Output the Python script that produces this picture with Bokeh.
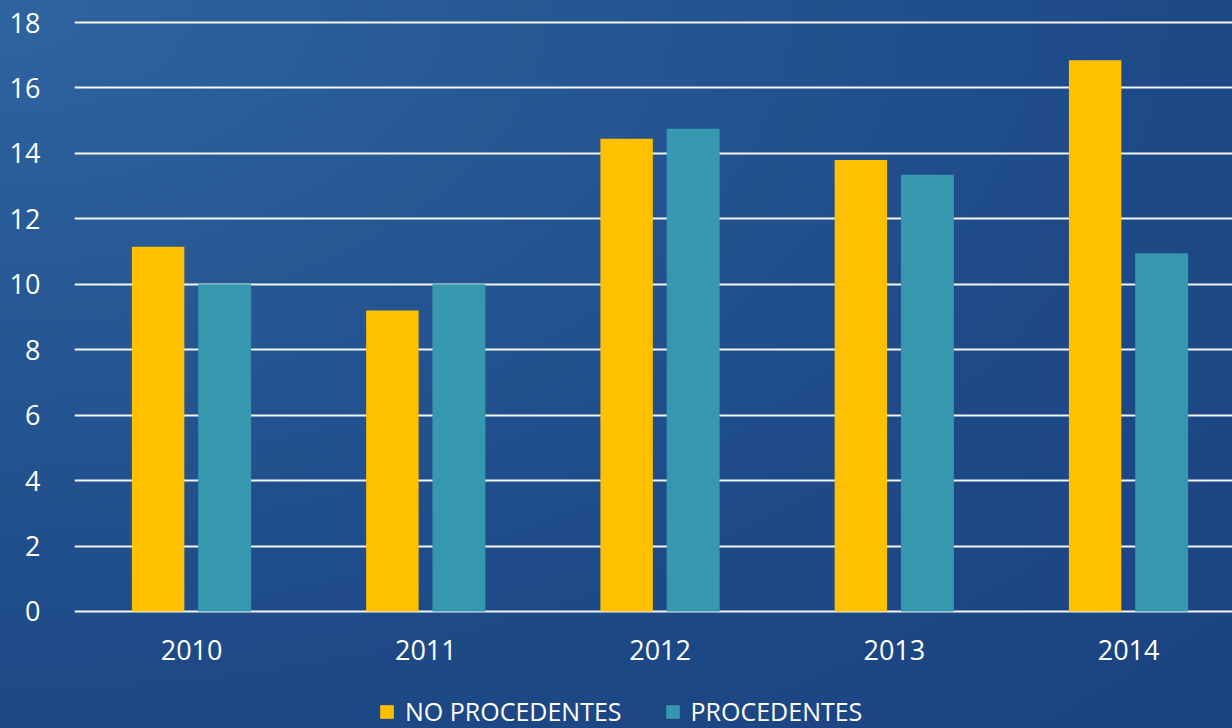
from bokeh.plotting import figure
from bokeh.models import ColumnDataSource, Range1d, FixedTicker, Legend, LegendItem, InlineStyleSheet
from bokeh.transform import dodge
from bokeh.embed import file_html
from bokeh.resources import INLINE

years = [2010, 2011, 2012, 2013, 2014]
no_procedentes = [11.15, 9.2, 14.45, 13.8, 16.85]
procedentes = [10.0, 10.0, 14.75, 13.35, 10.95]
y_ticks = [0, 2, 4, 6, 8, 10, 12, 14, 16, 18]
series_labels = ["NO PROCEDENTES", "PROCEDENTES"]

YELLOW = "#FFC000"
TEAL = "#3598AE"
FONT = "Open Sans"

src = ColumnDataSource(dict(year=years, no=no_procedentes, si=procedentes))

PX = 32.72  # pixels per unit
p = figure(width=1232, height=728, output_backend="svg", toolbar_location=None,
           x_range=Range1d(2009.5, 2009.5 + (1232 - 74) / 234.25),
           y_range=Range1d(-117 / PX, 18 + 10 / PX))
p.min_border_left = 74
p.min_border_right = 0
p.min_border_top = 12
p.min_border_bottom = 0
p.outline_line_color = None
p.background_fill_alpha = 0
p.border_fill_alpha = 0
p.stylesheets = [InlineStyleSheet(css=""":host { background: radial-gradient(ellipse at 0% 0%, #2e64a0 0%, #265894 30%, #1e4a88 65%, #1a4280 100%); }""")]

r1 = p.vbar(x=dodge("year", -0.143, range=p.x_range), top="no", width=0.224,
            source=src, color=YELLOW, line_color=None)
r2 = p.vbar(x=dodge("year", 0.141, range=p.x_range), top="si", width=0.226,
            source=src, color=TEAL, line_color=None)

p.xgrid.visible = False
p.ygrid.ticker = FixedTicker(ticks=y_ticks)
p.ygrid.grid_line_color = "white"
p.ygrid.grid_line_width = 2
p.ygrid.grid_line_alpha = 0.95

p.yaxis.ticker = FixedTicker(ticks=y_ticks)
p.xaxis.ticker = FixedTicker(ticks=years)
p.xaxis.fixed_location = 0
for ax in (p.xaxis[0], p.yaxis[0]):
    ax.axis_line_color = None
    ax.major_tick_line_color = None
    ax.minor_tick_line_color = None
    ax.major_label_text_color = "white"
    ax.major_label_text_font = FONT
    ax.major_label_text_font_size = "27px"
p.yaxis.major_label_standoff = 28
p.xaxis.major_label_standoff = 23

legend = Legend(items=[LegendItem(label=series_labels[0], renderers=[r1]),
                       LegendItem(label=series_labels[1], renderers=[r2])],
                orientation="horizontal", location=(304, 0))
legend.background_fill_alpha = 0
legend.border_line_color = None
legend.label_text_color = "white"
legend.label_text_font = FONT
legend.label_text_font_size = "25px"
legend.glyph_width = 17
legend.glyph_height = 17
legend.label_standoff = 10
legend.spacing = 42
legend.padding = 0
legend.margin = 0
p.add_layout(legend, "center")

html = file_html(p, INLINE)
html = html.replace("<body>", '<body style="margin:0;overflow:hidden">', 1)
open("out.html", "w").write(html)
